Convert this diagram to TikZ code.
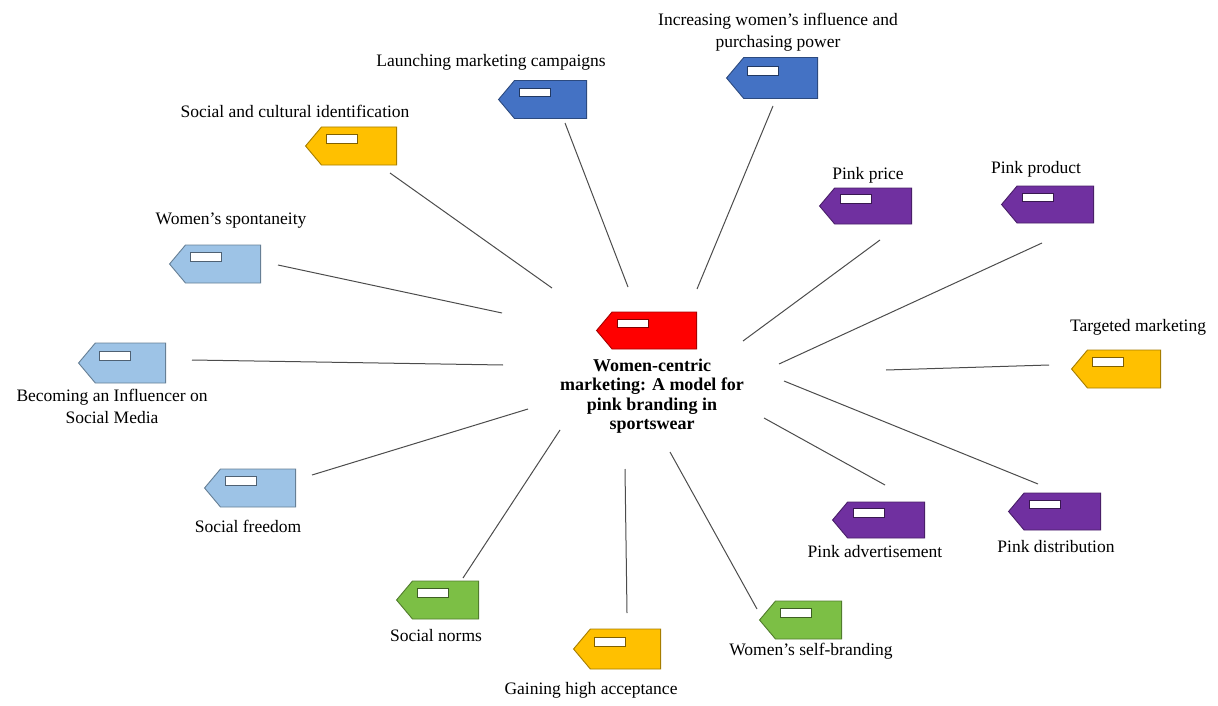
\documentclass[tikz,border=0pt]{standalone}
\usepackage{fontspec}
\setmainfont{Liberation Serif}
\usetikzlibrary{shapes.symbols}
\definecolor{cred}{HTML}{FF0000}
\definecolor{cblue}{HTML}{4472C4}
\definecolor{clight}{HTML}{9DC3E6}
\definecolor{corange}{HTML}{FFC000}
\definecolor{cpurple}{HTML}{7030A0}
\definecolor{cgreen}{HTML}{7CBF45}
\tikzset{
  tagbox/.style={signal, signal to=west, signal pointer angle=100,
    draw=#1!65!black, fill=#1, line width=0.9pt, anchor=east,
    minimum width=91pt, minimum height=38pt, inner sep=0pt},
  winbox/.style={draw=#1!50!black, fill=white, line width=1pt,
    minimum width=31pt, minimum height=8.5pt, inner sep=0pt},
  lbl/.style={font=\fontsize{17.5}{22}\selectfont, align=center, inner sep=0pt},
  conn/.style={draw=black!70, line width=1pt}
}
\newcommand\mytag[4][]{%
  \node[tagbox=#4,#1] (#2) at (#3) {};
  \node[winbox=#4] (#2w) at ([xshift=37pt,yshift=7pt]#2.west) {};
}
\begin{document}
\begin{tikzpicture}[x=1pt,y=-1pt]
\useasboundingbox (0,0) rectangle (1218,706);
% tags (anchored at their right edge)
\mytag[minimum width=100pt,minimum height=37pt]{c}{697,330.5}{cred}
\mytag[minimum width=88pt]{t1}{587,99.5}{cblue}
\mytag[minimum height=41pt]{t2}{818,78}{cblue}
\mytag{t3}{397,146}{corange}
\mytag{t4}{261,264}{clight}
\mytag[minimum width=87pt,minimum height=40pt]{t5}{166,363}{clight}
\mytag{t6}{296,488}{clight}
\mytag[minimum width=82pt]{t7}{479,600}{cgreen}
\mytag[minimum width=87pt,minimum height=40pt]{t8}{661,649}{corange}
\mytag[minimum width=82pt]{t9}{842,620}{cgreen}
\mytag[minimum width=92pt,minimum height=36pt]{t10}{925,520}{cpurple}
\mytag[minimum width=92pt,minimum height=37pt]{t11}{1101,511.5}{cpurple}
\mytag[minimum width=89pt]{t12}{1161,369}{corange}
\mytag[minimum width=92pt,minimum height=36pt]{t13}{912,206}{cpurple}
\mytag[minimum width=92pt,minimum height=37pt]{t14}{1094,204.5}{cpurple}
% labels
\node[lbl, font=\fontsize{18}{19.5}\selectfont\bfseries] (cl) at (652,396) {Women-centric\\marketing: A model for\\pink branding in\\sportswear};
\node[lbl] (l1) at (491,62) {Launching marketing campaigns};
\node[lbl] (l2) at (778,32) {Increasing women's influence and\\purchasing power};
\node[lbl] (l3) at (295,111) {Social and cultural identification};
\node[lbl] (l4) at (231,221) {Women's spontaneity};
\node[lbl] (l5) at (112,406.5) {Becoming an Influencer on\\Social Media};
\node[lbl] (l6) at (248,526) {Social freedom};
\node[lbl] (l7) at (436,636) {Social norms};
\node[lbl] (l8) at (591,690) {Gaining high acceptance};
\node[lbl] (l9) at (811,651) {Women's self-branding};
\node[lbl] (l10) at (875,552) {Pink advertisement};
\node[lbl] (l11) at (1056,547) {Pink distribution};
\node[lbl] (l12) at (1138,327) {Targeted marketing};
\node[lbl] (l13) at (868,175) {Pink price};
\node[lbl] (l14) at (1036,169) {Pink product};
% connector end points
\coordinate (a1) at (628,287);  \coordinate (b1) at (565,123);
\coordinate (a2) at (697,289);  \coordinate (b2) at (773,106);
\coordinate (a3) at (552,288);  \coordinate (b3) at (390,173);
\coordinate (a4) at (502,313);  \coordinate (b4) at (278,265);
\coordinate (a5) at (503,365);  \coordinate (b5) at (192,360);
\coordinate (a6) at (528,409);  \coordinate (b6) at (312,475);
\coordinate (a7) at (560,430);  \coordinate (b7) at (463,578);
\coordinate (a8) at (625,469);  \coordinate (b8) at (627,613);
\coordinate (a9) at (670,452);  \coordinate (b9) at (757,609);
\coordinate (a10) at (764,418); \coordinate (b10) at (885,485);
\coordinate (a11) at (784,381); \coordinate (b11) at (1038,484);
\coordinate (a12) at (886,370); \coordinate (b12) at (1049,365);
\coordinate (a13) at (743,341); \coordinate (b13) at (880,240);
\coordinate (a14) at (779,364); \coordinate (b14) at (1042,243);
\foreach \i in {1,...,14} {\draw[conn] (a\i) -- (b\i);}
\end{tikzpicture}
\end{document}
